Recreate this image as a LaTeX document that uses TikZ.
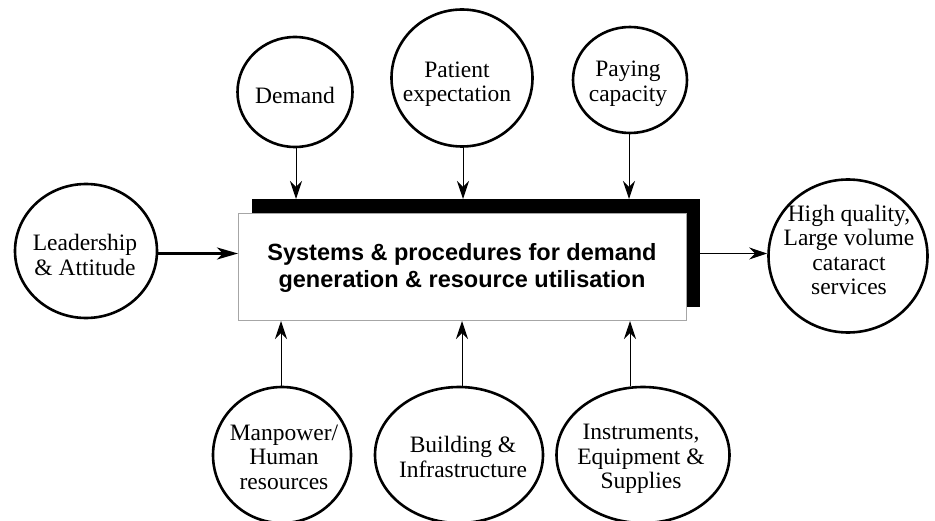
\documentclass[tikz,border=0pt]{standalone}
\usepackage{fontspec}
\setmainfont{Liberation Serif}
\newfontfamily\headfont{Liberation Sans}
\usetikzlibrary{shapes.geometric,arrows.meta}

\tikzset{
  blob/.style={ellipse, draw, line width=2.6pt, inner sep=0pt, fill=white},
  blobtext/.style={align=center, inner sep=0pt,
    font=\fontsize{23.5}{24.5}\selectfont},
  feed/.style={line width=1pt, -{Stealth[length=18pt, width=12pt, inset=6pt]}},
  boldfeed/.style={line width=2.8pt, -{Stealth[length=21pt, width=12pt, inset=6pt]}},
}

\begin{document}
\begin{tikzpicture}[x=1pt, y=-1pt]
  \useasboundingbox (0,0) rectangle (935,521);

  % central process box with its offset black shadow
  \node[fill=black, minimum width=448pt, minimum height=108pt, inner sep=0pt, anchor=north west]
    (shadow) at (252,199) {};
  \node[draw=gray!70, line width=1pt, fill=white, minimum width=448pt, minimum height=107pt,
        inner sep=0pt, anchor=north west] (core) at (238,213) {};
  \node[align=center, inner sep=0pt, font=\headfont\bfseries\fontsize{23.5}{27}\selectfont]
    (title) at (462,268) {Systems \& procedures for demand\\generation \& resource utilisation};

  % upper influences
  \node[blob, minimum width=115pt, minimum height=110pt] (demand) at (295,92) {};
  \node[blobtext] (demandT) at (295,95) {Demand};
  \node[blob, minimum width=141pt, minimum height=137pt] (patient) at (462,78) {};
  \node[blobtext] (patientT) at (457,84) {Patient\\expectation};
  \node[blob, minimum width=114pt, minimum height=106pt] (paying) at (630,80) {};
  \node[blobtext] (payingT) at (628,84) {Paying\\capacity};

  % lower resources
  \node[blob, minimum width=138pt, minimum height=136pt] (manpower) at (282,455) {};
  \node[blobtext] (manpowerT) at (284,457) {Manpower/\\Human\\resources};
  \node[blob, minimum width=168pt, minimum height=136pt] (building) at (459,455) {};
  \node[blobtext] (buildingT) at (463,457) {Building \&\\Infrastructure};
  \node[blob, minimum width=173pt, minimum height=136pt] (instr) at (643,455) {};
  \node[blobtext] (instrT) at (641,459) {Instruments,\\Equipment \&\\Supplies};

  % driver and outcome
  \node[blob, minimum width=142pt, minimum height=134pt] (lead) at (86,251) {};
  \node[blobtext] (leadT) at (85,255) {Leadership\\\& Attitude};
  \node[blob, minimum width=159pt, minimum height=153pt] (out) at (848,256) {};
  \node[blobtext] (outT) at (849,250) {High quality,\\Large volume\\cataract\\services};

  % connectors into the top of the shadow
  \draw[feed] ([xshift=1pt]demand.south) -- ([xshift=1pt]demand.south |- shadow.north);
  \draw[feed] ([xshift=1pt]patient.south) -- ([xshift=1pt]patient.south |- shadow.north);
  \draw[feed] ([xshift=-1pt]paying.south) -- ([xshift=-1pt]paying.south |- shadow.north);
  % connectors into the bottom of the box
  \draw[feed] ([xshift=-1pt]manpower.north) -- ([xshift=-1pt]manpower.north |- core.south);
  \draw[feed] ([xshift=3pt]building.north) -- ([xshift=3pt]building.north |- core.south);
  \draw[feed] ([xshift=-13pt]instr.north) -- ([xshift=-13pt]instr.north |- core.south);
  % driver in, outcome out
  \coordinate (leadIn) at ([yshift=13.5pt]core.west);
  \draw[boldfeed] (lead.east |- leadIn) -- (leadIn);
  \coordinate (outStart) at (shadow.east |- leadIn);
  \draw[feed] (outStart) -- (out.west |- outStart);
\end{tikzpicture}
\end{document}
